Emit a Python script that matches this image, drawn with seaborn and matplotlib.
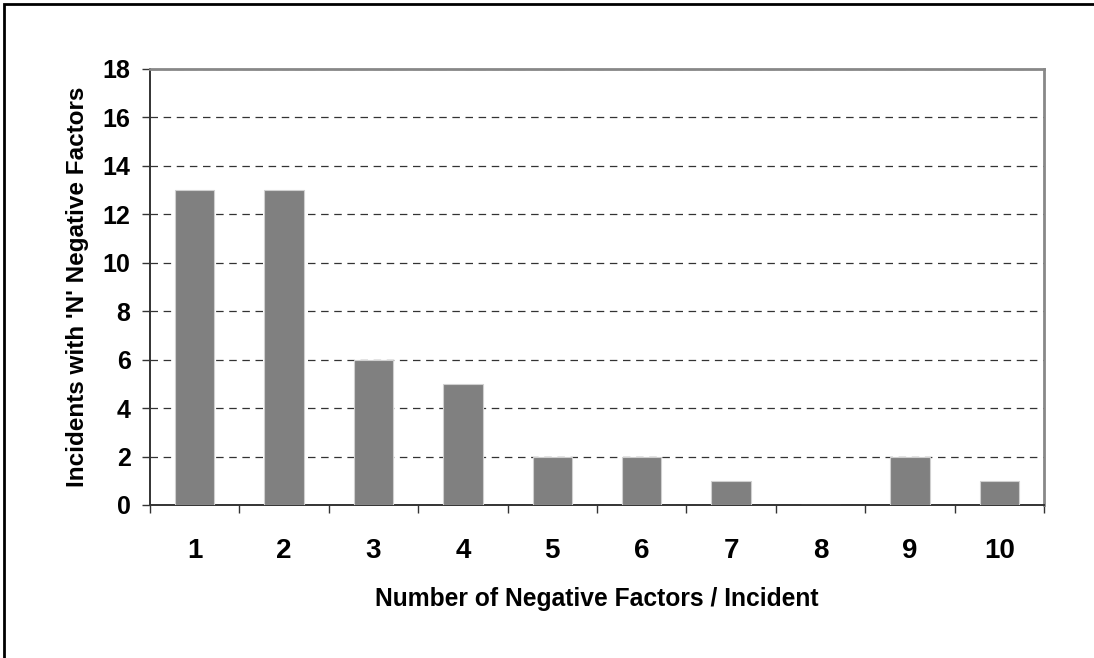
import matplotlib
matplotlib.use("Agg")
import matplotlib.pyplot as plt
import seaborn as sns
import pandas as pd
from matplotlib.patches import Rectangle

factors = ['1', '2', '3', '4', '5', '6', '7', '8', '9', '10']
incidents = [13, 13, 6, 5, 2, 2, 1, 0, 2, 1]
y_ticks = [0, 2, 4, 6, 8, 10, 12, 14, 16, 18]

df = pd.DataFrame({'factors': factors, 'incidents': incidents})

sns.set_style('white')
plt.rcParams['font.family'] = ['Liberation Sans', 'DejaVu Sans']
plt.rcParams['font.weight'] = 'bold'
plt.rcParams['text.color'] = 'black'
plt.rcParams['axes.labelcolor'] = 'black'
plt.rcParams['xtick.color'] = 'black'
plt.rcParams['ytick.color'] = 'black'

fig = plt.figure(figsize=(10.94, 6.58), dpi=100)
ax = fig.add_axes([150 / 1094, 1 - 505 / 658, 894 / 1094, 436 / 658])

sns.barplot(data=df, x='factors', y='incidents', color='#808080', saturation=1,
            width=0.44, edgecolor='#d0d0d0', linewidth=0.8, ax=ax, zorder=3)

ax.set_xlim(-0.5, 9.5)
ax.set_ylim(0, 18)
ax.set_yticks(y_ticks)
ax.yaxis.grid(True, color='#333333', linestyle=(0, (6, 4.5)), linewidth=0.9, zorder=0)
ax.set_axisbelow(True)

# category boundary ticks on x
ax.set_xticks([i + 0.5 for i in range(-1, 10)], minor=True)
ax.tick_params(axis='x', which='minor', bottom=True, direction='out', length=6, width=1, color='#333333')
ax.tick_params(axis='x', which='major', bottom=True, length=0, pad=24, labelsize=20, labelcolor='black')
ax.tick_params(axis='y', left=True, direction='out', length=6, width=1, color='#333333', pad=8,
               labelsize=18, labelcolor='black')

for side in ['left', 'bottom']:
    ax.spines[side].set_color('#333333')
    ax.spines[side].set_linewidth(1.4)
for side in ['top', 'right']:
    ax.spines[side].set_visible(True)
    ax.spines[side].set_color('#888888')
    ax.spines[side].set_linewidth(2)

ax.set_xlabel('Number of Negative Factors / Incident', fontsize=17.7, fontweight='bold', labelpad=16)
ax.set_ylabel("Incidents with 'N' Negative Factors", fontsize=17.5, fontweight='bold', labelpad=10)

# outer chart border
fig.patches.append(Rectangle((4 / 1094, -0.1), 1.2, 1 - 4 / 658 + 0.1, transform=fig.transFigure,
                             fill=False, edgecolor='black', linewidth=2))

fig.savefig('out.png', dpi=100)
